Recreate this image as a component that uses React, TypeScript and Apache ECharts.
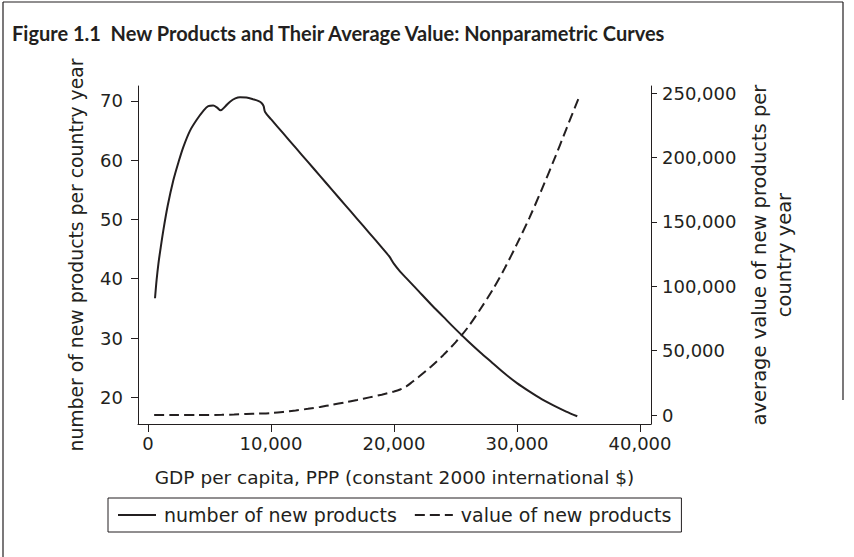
import React, { useEffect, useRef } from "react";
import * as echarts from "echarts";

// ---- data ----
// GDP per capita (x) for the "number of new products" curve
const gdpNumber = [
  570, 700, 850, 1000, 1250, 1600, 2060, 2500, 2870, 3400, 3960, 4500, 4900, 5300, 5600,
  5900, 6300, 6670, 7100, 7480, 8000, 8560, 9000, 9250, 9400, 9520, 10000, 11000, 12000,
  13000, 14000, 15000, 16000, 17000, 18000, 19000, 19600, 20000, 20500, 21000, 22000, 23000,
  24000, 25000, 26000, 27000, 28000, 29000, 30000, 31000, 32000, 33000, 34000, 34900,
];
const numberOfNewProducts = [
  36.7, 39.8, 42.6, 44.8, 48.2, 52.3, 56.6, 59.8, 62.2, 64.9, 66.8, 68.3, 69.1, 69.2, 68.9,
  68.4, 69.1, 69.85, 70.4, 70.6, 70.55, 70.25, 69.95, 69.6, 69.1, 68.1, 66.9, 64.5, 62.1,
  59.7, 57.3, 54.9, 52.5, 50.1, 47.7, 45.3, 43.8, 42.5, 41.2, 40.1, 37.9, 35.7,
  33.6, 31.5, 29.5, 27.6, 25.8, 24.0, 22.4, 21.0, 19.7, 18.6, 17.6, 16.8,
];
// GDP per capita (x) for the "value of new products" curve
const gdpValue = [
  500, 2000, 4000, 6000, 7000, 8000, 9000, 10000, 11000, 12000, 13000, 14000, 15000, 16000,
  17000, 18000, 19000, 20000, 20500, 21000, 21500, 22000, 23000, 24000, 25000, 26000, 27000,
  28000, 29000, 30000, 31000, 32000, 33000, 34000, 35000,
];
const valueOfNewProducts = [
  0, 0, 0, 100, 400, 800, 1100, 1500, 2400, 3500, 4800, 6300, 8000, 9800,
  11700, 13700, 15800, 18200, 19800, 22200, 25800, 29500, 37500, 46500, 56500, 68000, 82000,
  97000, 114000, 133000, 153000, 175000, 198000, 222000, 246000,
];

const xTicks = [0, 10000, 20000, 30000, 40000];
const leftTicks = [20, 30, 40, 50, 60, 70];
const rightTicks = [0, 50000, 100000, 150000, 200000, 250000];

const titleText = "Figure 1.1  New Products and Their Average Value: Nonparametric Curves";
const xName = "GDP per capita, PPP (constant 2000 international $)";
const leftName = "number of new products per country year";
const rightName = "average value of new products per\ncountry year";
const seriesNames = ["number of new products", "value of new products"];

const FONT = '"DejaVu Sans", sans-serif';
const INK = "#231f20";

const fmt = (v: number) => Math.round(v).toLocaleString("en-US");

export default function App() {
  const ref = useRef<HTMLDivElement>(null);
  useEffect(() => {
    const chart = echarts.init(ref.current!, null, { renderer: "svg", width: 854, height: 557 });
    const numData = gdpNumber.map((x, i) => [x, numberOfNewProducts[i]]);
    const valData = gdpValue.map((x, i) => [x, valueOfNewProducts[i]]);
    const tickFont = { fontFamily: FONT, fontSize: 18, color: INK };
    chart.setOption({
      animation: false,
      backgroundColor: "#ffffff",
      grid: { left: 138, right: 203, top: 86, bottom: 133, outerBoundsMode: "none" },
      xAxis: {
        type: "value",
        min: -813,
        max: 40894,
        name: xName,
        nameLocation: "middle",
        nameGap: 43.5,
        nameTextStyle: { fontFamily: FONT, fontSize: 18.5, color: INK },
        axisLine: { onZero: false, lineStyle: { color: INK, width: 1 } },
        axisTick: { length: 8, lineStyle: { color: INK, width: 1 }, customValues: xTicks },
        axisLabel: { customValues: xTicks, formatter: fmt, margin: 10, ...tickFont },
        splitLine: { show: false },
      },
      yAxis: [
        {
          type: "value",
          position: "left",
          min: 15.5,
          max: 72.5,
          name: leftName,
          nameLocation: "middle",
          nameRotate: 90,
          nameGap: 52,
          nameTextStyle: { fontFamily: FONT, fontSize: 18.8, color: INK },
          axisLine: { show: true, onZero: false, lineStyle: { color: INK, width: 1 } },
          axisTick: { show: true, length: 7, lineStyle: { color: INK, width: 1 }, customValues: leftTicks },
          axisLabel: { customValues: leftTicks, margin: 15, ...tickFont },
          splitLine: { show: false },
        },
        {
          type: "value",
          position: "right",
          min: -6994,
          max: 255673,
          name: rightName,
          nameLocation: "middle",
          nameRotate: 90,
          nameGap: 86,
          nameTextStyle: { fontFamily: FONT, fontSize: 19.5, color: INK, lineHeight: 25, align: "center" },
          axisLine: { show: true, onZero: false, lineStyle: { color: INK, width: 1 } },
          axisTick: { show: true, length: 6, lineStyle: { color: INK, width: 1 }, customValues: rightTicks },
          axisLabel: { customValues: rightTicks, formatter: fmt, margin: 11, ...tickFont },
          splitLine: { show: false },
        },
      ],
      legend: {
        left: 108,
        top: 498,
        orient: "horizontal",
        borderColor: INK,
        borderWidth: 1,
        borderRadius: 0,
        padding: [7.5, 10, 7.5, 9],
        itemGap: 17,
        itemWidth: 38,
        itemHeight: 14,
        itemStyle: { opacity: 0, borderWidth: 0 },
        textStyle: { fontFamily: FONT, fontSize: 19, color: INK, padding: [0, 0, 0, 3] },
        data: seriesNames,
      },
      graphic: [
        {
          type: "text",
          x: 12,
          y: 33,
          style: {
            text: titleText,
            font: 'bold 20px "Lato", sans-serif',
            fill: INK,
            verticalAlign: "middle",
          },
        },
        { type: "line", shape: { x1: 3, y1: 2, x2: 843, y2: 2 }, style: { stroke: INK, lineWidth: 1.2 } },
        { type: "line", shape: { x1: 3, y1: 2, x2: 3, y2: 557 }, style: { stroke: INK, lineWidth: 1.2 } },
        { type: "line", shape: { x1: 843, y1: 2, x2: 843, y2: 400 }, style: { stroke: INK, lineWidth: 1.2 } },
      ],
      series: [
        {
          name: seriesNames[0],
          type: "line",
          yAxisIndex: 0,
          data: numData,
          showSymbol: false,
          symbol: "none",
          smooth: 0.3,
          lineStyle: { color: INK, width: 2, type: "solid" },
          itemStyle: { color: INK },
        },
        {
          name: seriesNames[1],
          type: "line",
          yAxisIndex: 1,
          data: valData,
          showSymbol: false,
          symbol: "none",
          smooth: 0.3,
          lineStyle: { color: INK, width: 2, type: [10, 5] },
          itemStyle: { color: INK },
        },
      ],
    });
    return () => chart.dispose();
  }, []);
  return (
    <div
      ref={ref}
      style={{ width: 854, height: 557, position: "absolute", left: 0, top: 0, background: "#fff" }}
    />
  );
}
